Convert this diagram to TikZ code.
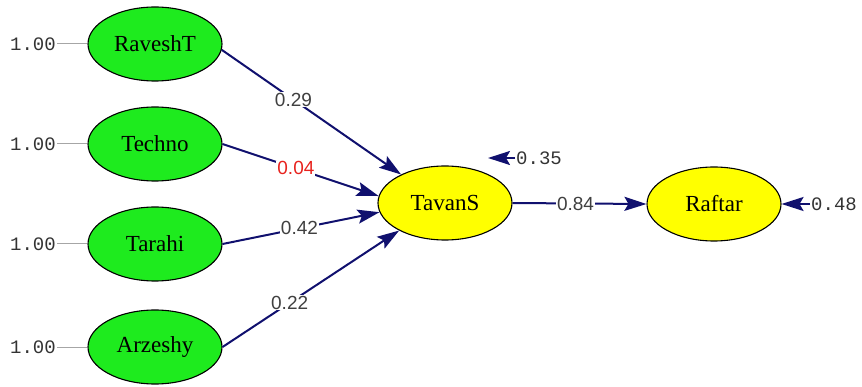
\documentclass[tikz,border=0pt]{standalone}
\usepackage{fontspec}
\setmainfont{Liberation Serif}
\setsansfont{Liberation Sans}
\setmonofont{Liberation Mono}
\usepackage{tikz}
\usetikzlibrary{arrows.meta,shapes.geometric}
\definecolor{exogreen}{HTML}{1EEB1E}
\definecolor{endoyellow}{HTML}{FFFF00}
\definecolor{pathblue}{HTML}{10106E}
\definecolor{insig}{HTML}{E8231E}

\begin{document}
\begin{tikzpicture}[x=1pt, y=-1pt, >={Stealth[length=22pt,width=14pt,inset=4pt]},
  latent/.style={ellipse, draw=black, line width=1.1pt, minimum width=134pt,
    minimum height=74pt, inner sep=0pt, font=\fontsize{23}{23}\selectfont},
  coef/.style={font=\sffamily\fontsize{19}{19}\selectfont, text=black!75,
    fill=white, inner sep=1pt},
  err/.style={font=\ttfamily\fontsize{19}{19}\selectfont, text=black!80, inner sep=1pt},
  arr/.style={->, pathblue, line width=2pt}]
\useasboundingbox (0,0) rectangle (862,387);
% exogenous factors
\foreach \nm/\y in {RaveshT/44, Techno/144, Tarahi/244, Arzeshy/347} {
  \node[latent, fill=exogreen] (\nm) at (155,\y) {\nm};
  \node[err, anchor=east] (e\nm) at (57,\y) {1.00};
  \draw[gray!70, line width=1pt] (e\nm) -- (\nm);
}
% endogenous factors
\node[latent, fill=endoyellow] (TavanS) at (445,203) {TavanS};
\node[latent, fill=endoyellow] (Raftar) at (714,204) {Raftar};
% paths
\draw[arr] (RaveshT.-5) -- node[coef, pos=0.4] {0.29} (TavanS.147);
\draw[arr] (Techno.east) -- node[coef, pos=0.47, text=insig] {0.04} (TavanS.174);
\draw[arr] (Tarahi.east) -- node[coef, pos=0.49] {0.42} (TavanS.188);
\draw[arr] (Arzeshy.east) -- node[coef, pos=0.38] {0.22} (TavanS.211);
\draw[arr] (TavanS.east) -- node[coef, pos=0.47] {0.84} (Raftar.west);
% errors
\node[err, anchor=west] (eTavanS) at (515,158) {0.35};
\coordinate (zTavanS) at (488,158);
\draw[arr] (eTavanS) -- (zTavanS);
\node[err, anchor=west] (eRaftar) at (810,204) {0.48};
\draw[arr] (eRaftar) -- (Raftar.east);
\end{tikzpicture}
\end{document}
